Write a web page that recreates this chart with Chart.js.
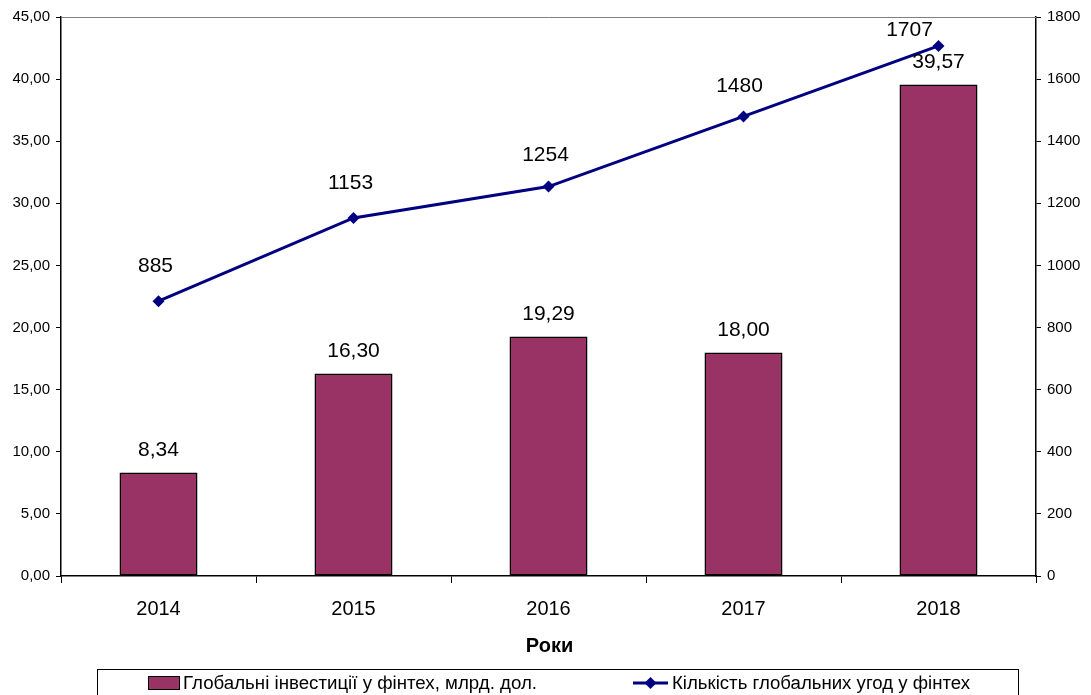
<!DOCTYPE html>
<html>
<head>
<meta charset="utf-8">
<script src="https://cdn.jsdelivr.net/npm/chart.js@4"></script>
<style>
  html, body { margin: 0; padding: 0; background: #fff; }
  canvas { display: block; }
</style>
</head>
<body>
<canvas id="chart" width="1091" height="695"></canvas>
<script>
const years = ['2014', '2015', '2016', '2017', '2018'];
const investments = [8.34, 16.30, 19.29, 18.00, 39.57];
const deals = [885, 1153, 1254, 1480, 1707];
const investLabel = 'Глобальні інвестиції у фінтех, млрд. дол.';
const dealsLabel = 'Кількість глобальних угод у фінтех';
const xTitle = 'Роки';

const barColor = '#993366';
const lineColor = '#000080';
const fontFamily = "'Liberation Sans', Arial, sans-serif";
// зсув підписів лінії відносно точок (як в оригіналі, останній зміщений ліворуч)
const dealLabelGap = [35, 35, 31, 30, 16];
const dealLabelDx = [-3, -3, -3, -4, -29];

const fmtComma = (v) => v.toFixed(2).replace('.', ',');

// верхня сіра лінія, підписи даних, назва осі, легенда
const overlay = {
    id: 'overlay',
    afterDatasetsDraw(chart) {
        const { ctx, chartArea } = chart;
        ctx.save();

        ctx.strokeStyle = '#808080';
        ctx.lineWidth = 1;
        ctx.beginPath();
        ctx.moveTo(chartArea.left, chartArea.top + 0.5);
        ctx.lineTo(chartArea.right, chartArea.top + 0.5);
        ctx.stroke();

        ctx.fillStyle = '#000';
        ctx.font = `21px ${fontFamily}`;
        ctx.textAlign = 'center';
        ctx.textBaseline = 'middle';

        const barMeta = chart.getDatasetMeta(0);
        barMeta.data.forEach((el, i) => {
            ctx.fillText(fmtComma(investments[i]), el.x, el.y - 22);
        });
        const lineMeta = chart.getDatasetMeta(1);
        lineMeta.data.forEach((el, i) => {
            ctx.fillText(String(deals[i]), el.x + dealLabelDx[i], el.y - dealLabelGap[i]);
        });

        ctx.font = `bold 20px ${fontFamily}`;
        ctx.fillText(xTitle, (chartArea.left + chartArea.right) / 2 + 1, 646);

        // легенда
        const lx = 97, ly = 669, lw = 921, lh = 30;
        ctx.strokeStyle = '#000';
        ctx.lineWidth = 1;
        ctx.strokeRect(lx + 0.5, ly + 0.5, lw, lh);

        ctx.fillStyle = barColor;
        ctx.fillRect(148, 676, 32, 14);
        ctx.strokeRect(148.5, 676.5, 31, 13);

        ctx.strokeStyle = lineColor;
        ctx.lineWidth = 3;
        ctx.beginPath();
        ctx.moveTo(633, 683);
        ctx.lineTo(668, 683);
        ctx.stroke();
        ctx.fillStyle = lineColor;
        ctx.beginPath();
        ctx.moveTo(650.5, 677);
        ctx.lineTo(656.5, 683);
        ctx.lineTo(650.5, 689);
        ctx.lineTo(644.5, 683);
        ctx.closePath();
        ctx.fill();

        ctx.fillStyle = '#000';
        ctx.font = `18px ${fontFamily}`;
        ctx.textAlign = 'left';
        const drawNarrow = (text, x, y, width) => {
            const w = ctx.measureText(text).width;
            ctx.save();
            ctx.translate(x, y);
            ctx.scale(width / w, 1);
            ctx.fillText(text, 0, 0);
            ctx.restore();
        };
        drawNarrow(investLabel, 183, 684, 354);
        drawNarrow(dealsLabel, 672, 684, 298);

        ctx.restore();
    }
};

new Chart(document.getElementById('chart'), {
    type: 'bar',
    plugins: [overlay],
    data: {
        labels: years,
        datasets: [
            {
                type: 'bar',
                label: investLabel,
                data: investments,
                backgroundColor: barColor,
                borderColor: '#000',
                borderWidth: 1.5,
                borderSkipped: false,
                categoryPercentage: 1,
                barPercentage: 0.4,
                yAxisID: 'y',
                order: 2
            },
            {
                type: 'line',
                label: dealsLabel,
                data: deals,
                borderColor: lineColor,
                backgroundColor: lineColor,
                borderWidth: 3,
                pointStyle: 'rectRot',
                pointRadius: 6,
                pointBorderWidth: 0,
                tension: 0,
                yAxisID: 'y1',
                order: 1
            }
        ]
    },
    options: {
        responsive: false,
        animation: false,
        maintainAspectRatio: false,
        layout: { padding: { top: 17, left: 0, right: 0, bottom: 0 } },
        plugins: {
            legend: { display: false },
            tooltip: { enabled: false }
        },
        scales: {
            x: {
                offset: true,
                grid: {
                    offset: true,
                    drawOnChartArea: false,
                    drawTicks: true,
                    tickLength: 7,
                    color: '#000'
                },
                border: { color: '#000', width: 1.5 },
                ticks: {
                    color: '#000',
                    padding: 14,
                    font: { family: fontFamily, size: 20 }
                },
                afterFit(scale) { scale.height = 119; }
            },
            y: {
                position: 'left',
                min: 0,
                max: 45,
                ticks: {
                    stepSize: 5,
                    color: '#000',
                    padding: 6,
                    font: { family: fontFamily, size: 15 },
                    callback: (v) => fmtComma(v)
                },
                grid: {
                    drawOnChartArea: false,
                    tickLength: 5,
                    color: '#000'
                },
                border: { color: '#000', width: 1.5 },
                afterFit(scale) { scale.width = 61; }
            },
            y1: {
                position: 'right',
                min: 0,
                max: 1800,
                ticks: {
                    stepSize: 200,
                    color: '#000',
                    padding: 6,
                    font: { family: fontFamily, size: 15 },
                    callback: (v) => String(v)
                },
                grid: {
                    drawOnChartArea: false,
                    tickLength: 5,
                    color: '#000'
                },
                border: { color: '#000', width: 1.5 },
                afterFit(scale) { scale.width = 55; }
            }
        }
    }
});
</script>
</body>
</html>
